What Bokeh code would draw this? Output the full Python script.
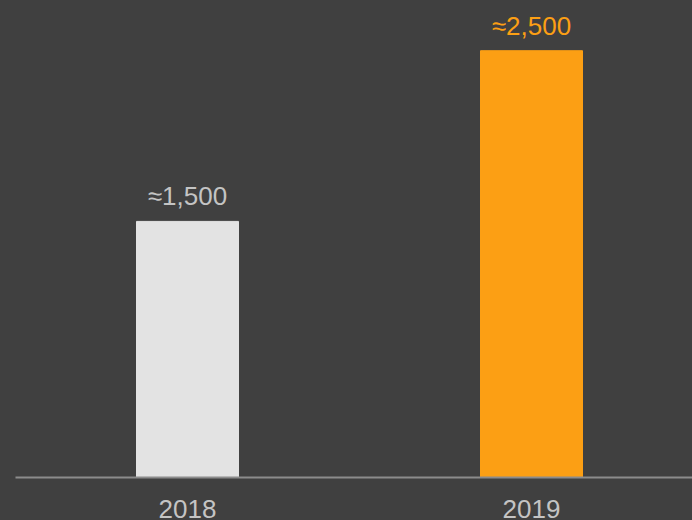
from bokeh.plotting import figure
from bokeh.models import ColumnDataSource, Range1d, FixedTicker
from bokeh.embed import file_html
from bokeh.resources import INLINE
from bokeh.core.properties import value

years = ["2018", "2019"]
counts = [1500, 2500]
labels = ["≈1,500", "≈2,500"]
bar_colors = ["#e3e3e3", "#fc9f14"]
label_colors = ["#c4c4c4", "#fc9f14"]

xs = list(range(len(years)))
src = ColumnDataSource(dict(x=xs, top=counts, label=labels, color=bar_colors, lcolor=label_colors))

BG = "#404040"
p = figure(width=692, height=520, output_backend="svg", toolbar_location=None,
           x_range=Range1d(-0.5, 1.468), y_range=Range1d(0, 2794),
           min_border_left=15, min_border_right=0, min_border_top=0, min_border_bottom=0)
p.background_fill_color = BG
p.border_fill_color = BG
p.outline_line_color = None
p.grid.visible = False

p.vbar(x="x", top="top", bottom=0, width=0.2965, color="color", source=src)
p.text(x="x", y="top", text="label", text_color="lcolor", source=src,
       text_align="center", text_baseline="alphabetic", y_offset=-25,
       text_font=value("Liberation Sans"), text_font_size="26px")

p.yaxis.visible = False
ax = p.xaxis[0]
ax.ticker = FixedTicker(ticks=xs)
ax.major_label_overrides = {i: y for i, y in enumerate(years)}
ax.axis_line_color = "#8c8c8c"
ax.axis_line_width = 2
ax.major_tick_line_color = None
ax.minor_tick_line_color = None
ax.major_label_text_color = "#c4c4c4"
ax.major_label_text_font = "Liberation Sans"
ax.major_label_text_font_size = "26px"
ax.major_label_standoff = 16

html = file_html(p, INLINE)
html = html.replace("<head>", "<head><style>html,body{margin:0;padding:0;background:#404040;overflow:hidden}</style>", 1)
open("out.html", "w").write(html)
